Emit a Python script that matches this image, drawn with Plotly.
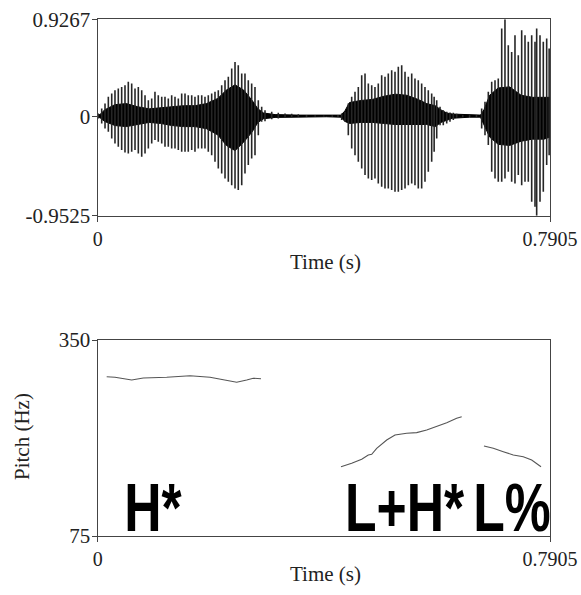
import plotly.graph_objects as go

# ---------------- Data ----------------
# Waveform envelope: time (s), upper peak, lower peak
wave_t = [0.001, 0.007, 0.0128, 0.0186, 0.0245, 0.0302, 0.0360, 0.0419, 0.0477, 0.0535,
          0.0594, 0.0652, 0.0710, 0.0769, 0.0827, 0.0885, 0.0944, 0.1001, 0.1059, 0.1119,
          0.1176, 0.1234, 0.1293, 0.1351, 0.1409, 0.1468, 0.1526, 0.1583, 0.1643, 0.1700,
          0.1758, 0.1818, 0.1875, 0.1933, 0.1992, 0.2050, 0.2108, 0.2167, 0.2225, 0.2283,
          0.2342, 0.2400, 0.2457, 0.2517, 0.2574, 0.2632, 0.2691, 0.2749, 0.2807, 0.2866,
          0.2924, 0.3041, 0.3156, 0.3274, 0.3390, 0.3506, 0.365, 0.380, 0.395, 0.410,
          0.420,
          0.4264, 0.4322, 0.4380, 0.4439, 0.4497, 0.4555, 0.4614, 0.4672, 0.4730, 0.4789,
          0.4846, 0.4904, 0.4963, 0.5021, 0.5079, 0.5138, 0.5196, 0.5254, 0.5313, 0.5371,
          0.5429, 0.5488, 0.5545, 0.5603, 0.5662, 0.5720, 0.5778, 0.5837, 0.5880, 0.5925,
          0.5983, 0.6040, 0.6100, 0.6157, 0.6215, 0.6274, 0.638, 0.650, 0.662,
          0.6711, 0.6769, 0.6827, 0.6886, 0.6944, 0.7001, 0.7061, 0.7118, 0.7176, 0.7235,
          0.7293, 0.7351, 0.7410, 0.7468, 0.7526, 0.7585, 0.7643, 0.7672, 0.7730, 0.7788,
          0.7847, 0.7890]
wave_hi = [0.026, 0.073, 0.121, 0.185, 0.217, 0.249, 0.265, 0.280, 0.296, 0.328,
           0.313, 0.265, 0.280, 0.249, 0.201, 0.153, 0.169, 0.233, 0.201, 0.185,
           0.185, 0.169, 0.201, 0.185, 0.169, 0.217, 0.217, 0.201, 0.201, 0.185,
           0.201, 0.201, 0.185, 0.201, 0.217, 0.233, 0.249, 0.296, 0.344, 0.376,
           0.456, 0.519, 0.488, 0.408, 0.408, 0.344, 0.313, 0.280, 0.153, 0.089,
           0.057, 0.041, 0.032, 0.025, 0.022, 0.019, 0.010, 0.008, 0.007, 0.008,
           0.010,
           0.025, 0.041, 0.121, 0.185, 0.233, 0.280, 0.392, 0.408, 0.313, 0.296,
           0.280, 0.313, 0.392, 0.376, 0.408, 0.440, 0.424, 0.472, 0.488, 0.424,
           0.376, 0.408, 0.360, 0.344, 0.313, 0.280, 0.249, 0.217, 0.185, 0.153,
           0.089, 0.057, 0.041, 0.035, 0.032, 0.022, 0.012, 0.010, 0.010,
           0.073, 0.137, 0.233, 0.328, 0.344, 0.360, 0.838, 0.9267, 0.679, 0.615,
           0.774, 0.583, 0.822, 0.774, 0.711, 0.774, 0.711, 0.838, 0.774, 0.711,
           0.743, 0.647]
wave_lo = [-0.022, -0.070, -0.118, -0.150, -0.213, -0.261, -0.293, -0.325, -0.347, -0.357,
           -0.341, -0.325, -0.357, -0.389, -0.357, -0.309, -0.261, -0.229, -0.245, -0.261,
           -0.293, -0.293, -0.309, -0.309, -0.325, -0.341, -0.341, -0.341, -0.325, -0.341,
           -0.309, -0.309, -0.309, -0.341, -0.373, -0.437, -0.500, -0.548, -0.596, -0.628,
           -0.660, -0.692, -0.707, -0.660, -0.548, -0.468, -0.405, -0.373, -0.182, -0.054,
           -0.048, -0.029, -0.022, -0.016, -0.010, -0.006, -0.008, -0.006, -0.006, -0.007,
           -0.008,
           -0.038, -0.054, -0.182, -0.309, -0.373, -0.437, -0.500, -0.564, -0.596, -0.612,
           -0.596, -0.644, -0.676, -0.692, -0.692, -0.707, -0.723, -0.723, -0.707, -0.692,
           -0.660, -0.644, -0.660, -0.692, -0.692, -0.628, -0.532, -0.437, -0.340, -0.213,
           -0.086, -0.086, -0.070, -0.054, -0.038, -0.016, -0.010, -0.008, -0.008,
           -0.118, -0.182, -0.277, -0.532, -0.596, -0.628, -0.628, -0.596, -0.532, -0.628,
           -0.644, -0.564, -0.660, -0.628, -0.628, -0.819, -0.867, -0.9525, -0.819, -0.723,
           -0.468, -0.373]

# Dense core of the waveform: time, upper edge, lower edge
core_t = [0.0, 0.005, 0.012, 0.03, 0.05, 0.07, 0.09, 0.11, 0.13, 0.15,
          0.17, 0.19, 0.21, 0.225, 0.24, 0.255, 0.27, 0.28, 0.29, 0.31,
          0.35, 0.40, 0.425, 0.432, 0.44, 0.46, 0.48, 0.50, 0.52, 0.54,
          0.56, 0.575, 0.59, 0.60, 0.61, 0.62, 0.65, 0.669, 0.675, 0.685,
          0.70, 0.72, 0.74, 0.76, 0.78, 0.7905]
core_hi = [0.005, 0.02, 0.06, 0.11, 0.12, 0.09, 0.07, 0.08, 0.09, 0.10,
           0.10, 0.12, 0.17, 0.25, 0.30, 0.25, 0.15, 0.07, 0.03, 0.015,
           0.01, 0.007, 0.01, 0.05, 0.13, 0.15, 0.16, 0.19, 0.21, 0.20,
           0.16, 0.12, 0.10, 0.06, 0.03, 0.02, 0.01, 0.01, 0.06, 0.20,
           0.27, 0.28, 0.20, 0.18, 0.18, 0.18]
core_lo = [-0.005, -0.02, -0.05, -0.09, -0.10, -0.08, -0.06, -0.07, -0.09, -0.10,
           -0.10, -0.12, -0.18, -0.28, -0.33, -0.25, -0.15, -0.06, -0.025, -0.012,
           -0.008, -0.006, -0.01, -0.05, -0.07, -0.06, -0.06, -0.07, -0.08, -0.08,
           -0.08, -0.08, -0.10, -0.06, -0.04, -0.02, -0.01, -0.01, -0.08, -0.20,
           -0.27, -0.28, -0.24, -0.22, -0.22, -0.20]

# Pitch contours (s, Hz)
pitch1_t = [0.0157, 0.0302, 0.0594, 0.0797, 0.1206, 0.1613, 0.1963, 0.2255, 0.2429, 0.2604, 0.2719, 0.2854]
pitch1_f = [298.5, 297.7, 293.9, 296.7, 297.7, 299.9, 297.7, 292.9, 290.7, 293.9, 296.3, 295.7]
pitch2_t = [0.4252, 0.4439, 0.4614, 0.4729, 0.4789, 0.4876, 0.5051, 0.5196, 0.5400, 0.5575,
            0.5750, 0.5925, 0.6100, 0.6274, 0.6362]
pitch2_f = [172.2, 177.0, 182.6, 188.6, 189.6, 198.0, 209.7, 216.7, 219.1, 220.0,
            223.7, 228.4, 234.0, 240.1, 242.4]
pitch3_t = [0.6751, 0.6914, 0.7089, 0.7263, 0.7438, 0.7585, 0.7748]
pitch3_f = [201.3, 198.0, 193.3, 188.6, 186.3, 181.6, 172.2]

t_max = 0.7905
amp_min, amp_max = -0.9525, 0.9267
f_min, f_max = 75, 350
tone_labels = ["H*", "L+H*", "L%"]

# ---------------- Figure ----------------
W, H = 581, 595
serif = "Liberation Serif, Times New Roman, serif"
sans = "Liberation Sans, Arial, sans-serif"
axcol = "#444444"

seg_x, seg_y = [], []
for t, hi, lo in zip(wave_t, wave_hi, wave_lo):
    seg_x += [t, t, None]
    seg_y += [lo, hi, None]

fig = go.Figure()
fig.add_trace(go.Scatter(
    x=core_t + core_t[::-1], y=core_hi + core_lo[::-1],
    fill="toself", fillcolor="#000000", mode="lines",
    line=dict(color="#000000", width=1), xaxis="x", yaxis="y", hoverinfo="skip"))
fig.add_trace(go.Scatter(
    x=seg_x, y=seg_y, mode="lines", line=dict(color="#262626", width=1.6),
    xaxis="x", yaxis="y", hoverinfo="skip", connectgaps=False))

for pt, pf in [(pitch1_t, pitch1_f), (pitch2_t, pitch2_f), (pitch3_t, pitch3_f)]:
    fig.add_trace(go.Scatter(x=pt, y=pf, mode="lines",
                             line=dict(color="#555555", width=1.1),
                             xaxis="x2", yaxis="y2"))

xdom = [97.7 / W, 550 / W]
common_axis = dict(showgrid=False, zeroline=False, showline=True, mirror=True,
                   linecolor=axcol, linewidth=1.4, ticks="outside", ticklen=5,
                   tickcolor=axcol, tickwidth=1.2, automargin=False)
xfont = dict(family=serif, size=20, color="#222222")
yfont = dict(family=serif, size=21, color="#222222")

fig.update_layout(
    width=W, height=H, margin=dict(l=0, r=0, t=0, b=0, pad=0, autoexpand=False),
    paper_bgcolor="white", plot_bgcolor="white", showlegend=False,
    xaxis=dict(domain=xdom, range=[0, t_max], anchor="y",
               tickvals=[0, t_max], ticktext=["0", "0.7905"], tickfont=xfont,
               ticklabelstandoff=0, **common_axis),
    yaxis=dict(domain=[1 - 215.7 / H, 1 - 19.3 / H], range=[amp_min, amp_max], anchor="x",
               tickvals=[amp_min, 0, amp_max], ticktext=["-0.9525", "0", "0.9267"],
               tickfont=yfont, ticklabelstandoff=-3, **common_axis),
    xaxis2=dict(domain=xdom, range=[0, t_max], anchor="y2",
                tickvals=[0, t_max], ticktext=["0", "0.7905"], tickfont=xfont,
                ticklabelstandoff=0, **common_axis),
    yaxis2=dict(domain=[1 - 536 / H, 1 - 340 / H], range=[f_min, f_max], anchor="x2",
                tickvals=[f_min, f_max], ticktext=["75", "350"],
                tickfont=yfont, ticklabelstandoff=-3, **common_axis),
)

title_font = dict(family=serif, size=21, color="#222222")
fig.add_annotation(text="Time (s)", x=325 / W, y=1 - 262 / H, xref="paper", yref="paper",
                   showarrow=False, font=title_font, xanchor="center", yanchor="middle")
fig.add_annotation(text="Time (s)", x=325 / W, y=1 - 574 / H, xref="paper", yref="paper",
                   showarrow=False, font=title_font, xanchor="center", yanchor="middle")
fig.add_annotation(text="Pitch (Hz)", x=22 / W, y=1 - 437 / H, xref="paper", yref="paper",
                   showarrow=False, font=title_font, textangle=-90,
                   xanchor="center", yanchor="middle")

big_font = dict(family=sans, size=68, color="#000000", weight="bold")
for label, px in zip(tone_labels, [153, 405, 512]):
    fig.add_annotation(text=label, x=px / W, y=1 - 507 / H, xref="paper", yref="paper",
                       showarrow=False, font=big_font, xanchor="center", yanchor="middle")

# The tone labels are set in a narrow face in the reference: squeeze them horizontally
squeeze_js = """
var gd = document.getElementById('{plot_id}');
function squeezeLabels() {
  var labels = ['H*', 'L+H*', 'L%'];
  gd.querySelectorAll('text.annotation-text').forEach(function (t) {
    if (labels.indexOf(t.textContent) >= 0) {
      var b = t.getBBox();
      var cx = b.x + b.width / 2;
      t.setAttribute('transform', 'translate(' + cx + ',0) scale(0.76,1) translate(' + (-cx) + ',0)');
    }
  });
}
squeezeLabels();
gd.on('plotly_afterplot', squeezeLabels);
"""

fig.write_html("out.html", post_script=squeeze_js)
